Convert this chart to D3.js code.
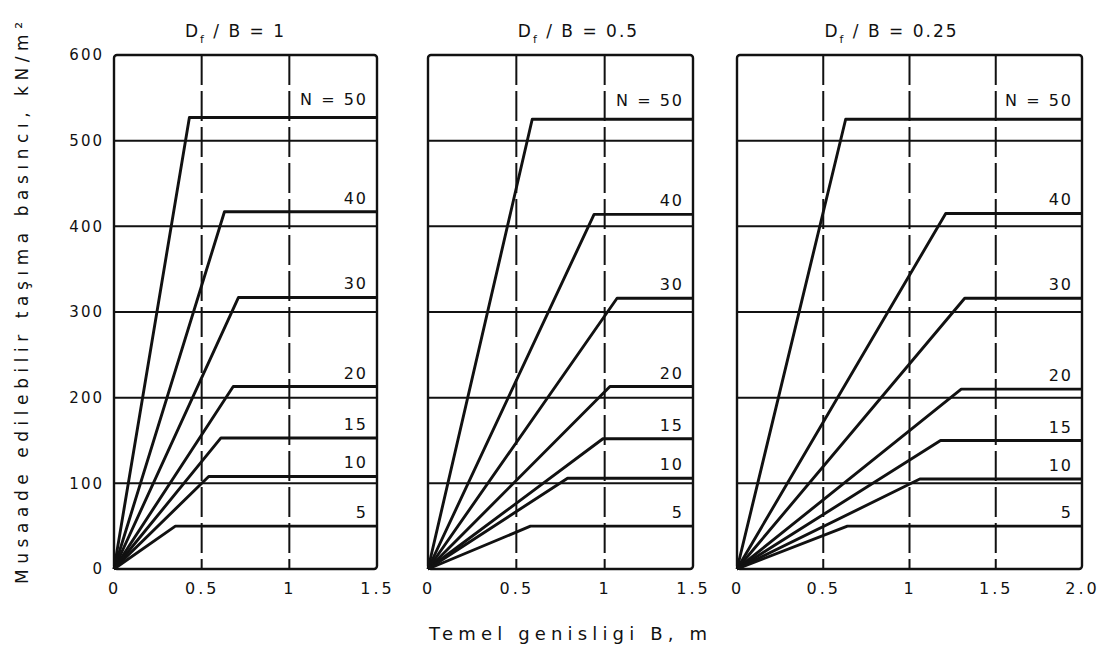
<!DOCTYPE html>
<html>
<head>
<meta charset="utf-8">
<script src="https://cdn.jsdelivr.net/npm/d3@7"></script>
<style>
  body { margin: 0; background: #fff; }
  text { font-family: "DejaVu Sans", sans-serif; fill: #111; }
</style>
</head>
<body>
<div id="chart"></div>
<script>
// N values (SPT blow count) for each curve
var nValues = [50, 40, 30, 20, 15, 10, 5];

// Df/B = 1 : plateau pressure (kN/m2) and width B at the knee (m)
var plateau1 = [527, 417, 317, 213, 153, 108, 50];
var knee1    = [0.43, 0.63, 0.71, 0.68, 0.61, 0.54, 0.35];

// Df/B = 0.5
var plateau2 = [525, 414, 316, 213, 152, 106, 50];
var knee2    = [0.59, 0.94, 1.07, 1.03, 0.99, 0.79, 0.58];

// Df/B = 0.25
var plateau3 = [525, 415, 316, 210, 150, 105, 50];
var knee3    = [0.63, 1.21, 1.32, 1.30, 1.18, 1.06, 0.64];

var yTicks = [0, 100, 200, 300, 400, 500, 600];
var yGrid = [100, 200, 300, 400, 500];
var xTicks1 = [0, 0.5, 1, 1.5];
var xTicks3 = [0, 0.5, 1, 1.5, 2.0];
var xTickLabels1 = ["0", "0.5", "1", "1.5"];
var xTickLabels3 = ["0", "0.5", "1", "1.5", "2.0"];

var panels = [
  {title: "1",    xmax: 1.5, ticks: xTicks1, labels: xTickLabels1, plateau: plateau1, knee: knee1, left: 114, right: 377, tdx: -10},
  {title: "0.5",  xmax: 1.5, ticks: xTicks1, labels: xTickLabels1, plateau: plateau2, knee: knee2, left: 428, right: 693, tdx: 18},
  {title: "0.25", xmax: 2.0, ticks: xTicks3, labels: xTickLabels3, plateau: plateau3, knee: knee3, left: 737, right: 1082, tdx: -18}
];

var W = 1103, H = 658, yTop = 55, yBottom = 569;

var svg = d3.select("#chart").append("svg")
    .attr("width", W).attr("height", H)
    .style("background", "#fff");

var y = d3.scaleLinear().domain([0, 600]).range([yBottom, yTop]);

panels.forEach(function(p, pi) {
  var x = d3.scaleLinear().domain([0, p.xmax]).range([p.left, p.right]);
  var g = svg.append("g");

  // horizontal grid
  g.selectAll(".hgrid").data(yGrid).enter().append("line")
      .attr("x1", p.left).attr("x2", p.right)
      .attr("y1", y).attr("y2", y)
      .attr("stroke", "#111").attr("stroke-width", 2);

  // vertical grid (dashed)
  g.selectAll(".vgrid").data(p.ticks.filter(function(t) { return t > 0 && t < p.xmax; })).enter().append("line")
      .attr("x1", x).attr("x2", x)
      .attr("y1", yTop).attr("y2", yBottom)
      .attr("stroke", "#111").attr("stroke-width", 2)
      .attr("stroke-dasharray", "30,6");

  // frame
  g.append("rect")
      .attr("x", p.left).attr("y", yTop)
      .attr("width", p.right - p.left).attr("height", yBottom - yTop)
      .attr("rx", 3)
      .attr("fill", "none").attr("stroke", "#111").attr("stroke-width", 2.4);

  // curves
  var line = d3.line()
      .x(function(d) { return x(d[0]); })
      .y(function(d) { return y(d[1]); });

  nValues.forEach(function(n, i) {
    var pts = [[0, 0], [p.knee[i], p.plateau[i]], [p.xmax, p.plateau[i]]];
    g.append("path")
        .datum(pts)
        .attr("d", line)
        .attr("fill", "none").attr("stroke", "#111")
        .attr("stroke-width", 2.9)
        .attr("stroke-linejoin", "round");

    g.append("text")
        .attr("x", p.right - 9)
        .attr("y", y(p.plateau[i]) - (i === 0 ? 13 : 8))
        .attr("text-anchor", "end")
        .attr("font-size", 16)
        .attr("letter-spacing", 2)
        .text(i === 0 ? "N = " + n : n);
  });

  // x axis labels
  var xAxis = d3.axisBottom(x)
      .tickValues(p.ticks)
      .tickFormat(function(d, i) { return p.labels[i]; })
      .tickSize(0).tickPadding(14);
  var ax = g.append("g")
      .attr("transform", "translate(0," + yBottom + ")")
      .call(xAxis);
  ax.select(".domain").remove();
  ax.selectAll("text")
      .attr("font-size", 16).attr("letter-spacing", 3)
      .style("font-family", "DejaVu Sans, sans-serif").attr("fill", "#111");

  // panel title: Df / B = ...
  var t = g.append("text")
      .attr("x", (p.left + p.right) / 2 + p.tdx)
      .attr("y", 37)
      .attr("text-anchor", "middle")
      .attr("font-size", 17)
      .attr("letter-spacing", 2);
  t.append("tspan").text("D");
  t.append("tspan").attr("font-size", 11).attr("dy", 6).text("f");
  t.append("tspan").attr("dy", -6).text(" / B = " + p.title);

  if (pi === 0) {
    var yAxis = d3.axisLeft(y).tickValues(yTicks).tickSize(0).tickPadding(10);
    var ay = g.append("g")
        .attr("transform", "translate(" + p.left + ",0)")
        .call(yAxis);
    ay.select(".domain").remove();
    ay.selectAll("text")
        .attr("font-size", 15).attr("letter-spacing", 2)
        .style("font-family", "DejaVu Sans, sans-serif").attr("fill", "#111");
  }
});

// axis titles
svg.append("text")
    .attr("x", 568).attr("y", 640)
    .attr("text-anchor", "middle")
    .attr("font-size", 18)
    .attr("textLength", 278).attr("lengthAdjust", "spacing")
    .text("Temel genisligi B, m");

svg.append("text")
    .attr("transform", "translate(28,303) rotate(-90)")
    .attr("text-anchor", "middle")
    .attr("font-size", 17)
    .attr("textLength", 562).attr("lengthAdjust", "spacing")
    .text("Musaade edilebilir taşıma basıncı, kN/m²");
</script>
</body>
</html>
